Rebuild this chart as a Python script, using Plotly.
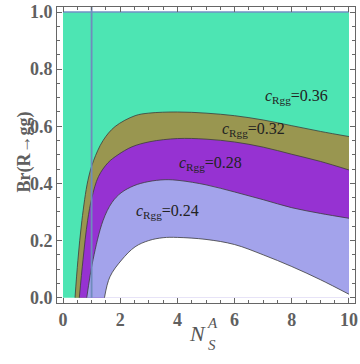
import plotly.graph_objects as go

# boundary curves Br(N), outermost first
c1_x = [0.42, 0.52, 0.66, 0.87, 1.07, 1.40, 1.82, 2.52, 3.0, 4.0, 5.0, 6.0, 7.0, 8.0, 9.0, 10.0]
c1_y = [0.0, 0.130, 0.270, 0.410, 0.480, 0.550, 0.599, 0.637, 0.646, 0.650, 0.646, 0.637, 0.622, 0.602, 0.582, 0.564]

c2_x = [0.57, 0.70, 0.86, 1.01, 1.24, 1.57, 1.92, 2.41, 3.04, 4.0, 5.0, 6.0, 7.0, 8.0, 9.0, 10.0]
c2_y = [0.0, 0.133, 0.270, 0.350, 0.424, 0.472, 0.500, 0.528, 0.546, 0.557, 0.555, 0.545, 0.527, 0.502, 0.477, 0.447]

c3_x = [0.83, 1.05, 1.40, 1.71, 2.03, 2.48, 2.97, 3.57, 4.09, 5.0, 6.0, 7.0, 8.0, 9.0, 10.0]
c3_y = [0.0, 0.133, 0.270, 0.333, 0.367, 0.392, 0.406, 0.413, 0.410, 0.395, 0.370, 0.343, 0.315, 0.295, 0.278]

c4_x = [1.45, 1.64, 2.05, 2.52, 3.0, 3.5, 4.0, 5.0, 6.0, 7.0, 8.0, 9.0, 10.0]
c4_y = [0.0, 0.073, 0.132, 0.178, 0.200, 0.210, 0.211, 0.204, 0.186, 0.150, 0.109, 0.063, 0.012]

c_values = ["0.36", "0.32", "0.28", "0.24"]
label_x = [8.18, 6.67, 5.17, 3.65]
label_y = [0.703, 0.587, 0.471, 0.301]

x_ticks = [0, 2, 4, 6, 8, 10]
y_ticks = [0.0, 0.2, 0.4, 0.6, 0.8, 1.0]
n_line = 1.0

serif = "Liberation Serif, Times New Roman, DejaVu Serif, serif"
fills = ["#4de5b3", "#999650", "#9632d2", "#a3a3eb", "white"]
curves = [(c1_x, c1_y), (c2_x, c2_y), (c3_x, c3_y), (c4_x, c4_y)]

fig = go.Figure()

# top region up to Br = 1
fig.add_trace(go.Scatter(x=[0, 10], y=[1, 1], mode='lines', fill='tozeroy',
                         fillcolor=fills[0], line=dict(color="#7090c4", width=1.5),
                         hoverinfo='skip'))

for (cx, cy), col in zip(curves, fills[1:]):
    fig.add_trace(go.Scatter(x=cx, y=cy, mode='lines', fill='tozeroy',
                             fillcolor=col, line=dict(width=0, shape='spline'),
                             hoverinfo='skip'))

for cx, cy in curves:
    fig.add_trace(go.Scatter(x=cx, y=cy, mode='lines',
                             line=dict(color="rgba(60,60,60,0.8)", width=1, shape='spline'),
                             hoverinfo='skip'))

# vertical line at N = 1
fig.add_trace(go.Scatter(x=[n_line, n_line], y=[0, 1.02], mode='lines',
                         line=dict(color="#6f8cbc", width=1.8), hoverinfo='skip'))

for cv, lx, ly in zip(c_values, label_x, label_y):
    fig.add_annotation(x=lx, y=ly, text="<i>c</i><sub>Rgg</sub>=" + cv,
                       showarrow=False, font=dict(family=serif, size=16, color="#222222"))

tickfont = dict(family=serif, size=18, color="#606060", weight='bold')
axis_common = dict(showline=True, linecolor="#666666", linewidth=1, mirror='ticks',
                   ticks='inside', ticklen=5, tickcolor="#666666", showgrid=False,
                   zeroline=False, tickfont=tickfont, automargin=False)

fig.update_xaxes(range=[-0.21, 10.21], tickvals=x_ticks,
                 minor=dict(ticks='inside', ticklen=3, dtick=0.5, tick0=0, tickcolor="#666666"),
                 **axis_common)
fig.update_yaxes(range=[-0.0186, 1.0175], tickvals=y_ticks, tickformat='.1f',
                 minor=dict(ticks='inside', ticklen=3, dtick=0.05, tick0=0, tickcolor="#666666"),
                 **axis_common)

# axis titles
fig.add_annotation(xref='paper', yref='paper', x=-0.151, y=0.51, textangle=-90,
                   text="Br(R→gg)", showarrow=False,
                   font=dict(family=serif, size=18, color="#606060", weight='bold'))
fig.add_annotation(xref='paper', yref='paper', x=0.473, y=-0.152, text="<i>N</i>",
                   showarrow=False, font=dict(family=serif, size=22, color="#555555"))
fig.add_annotation(xref='paper', yref='paper', x=0.523, y=-0.101, text="<i>A</i>",
                   showarrow=False, font=dict(family=serif, size=15, color="#555555"))
fig.add_annotation(xref='paper', yref='paper', x=0.52, y=-0.176, text="<i>S</i>",
                   showarrow=False, font=dict(family=serif, size=15, color="#555555"))

fig.update_layout(width=360, height=364, showlegend=False,
                  margin=dict(l=57, r=5, t=7, b=61),
                  plot_bgcolor="white", paper_bgcolor="white")

# drop the default 8px body margin so the figure fills the window
fig.write_html("out.html", config={'displayModeBar': False},
               post_script="document.body.style.margin='0px';")
